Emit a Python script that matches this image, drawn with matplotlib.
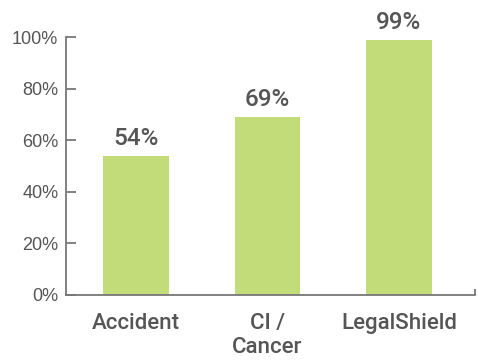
import matplotlib.pyplot as plt
from matplotlib.ticker import PercentFormatter

categories = ['Accident', 'CI /\nCancer', 'LegalShield']
values = [54, 69, 99]
yticks = [0, 20, 40, 60, 80, 100]

bar_color = '#c2dc7a'
text_color = '#555555'
axis_color = '#777777'

plt.rcParams['font.family'] = ['Liberation Sans', 'DejaVu Sans']
medium = ['Roboto', 'DejaVu Sans']

fig = plt.figure(figsize=(4.78, 3.6), dpi=100)
ax = fig.add_axes([0.138, 0.1806, 0.8557, 0.7166])

x = range(len(categories))
bars = ax.bar(x, values, width=0.5, color=bar_color)
ax.bar_label(bars, labels=[f'{v}%' for v in values], padding=4,
             fontsize=17.5, fontweight='medium', family=medium, color=text_color)

ax.set_xlim(-0.532, 2.578)
ax.set_ylim(0, 100)
ax.set_yticks(yticks)
ax.yaxis.set_major_formatter(PercentFormatter(decimals=0))
ax.tick_params(axis='y', direction='in', length=7.2, width=1.3,
               color=axis_color, labelsize=13, labelcolor=text_color, pad=5.5)

ax.set_xticks(list(x))
ax.set_xticklabels(categories, fontsize=16, fontweight='medium', family=medium,
                   color=text_color, linespacing=1.2)
ax.tick_params(axis='x', length=0, pad=13, which='major')
ax.set_xticks([2.578], minor=True)
ax.tick_params(axis='x', which='minor', direction='in', length=4.5,
               width=1.3, color=axis_color)

for s in ['top', 'right']:
    ax.spines[s].set_visible(False)
for s in ['left', 'bottom']:
    ax.spines[s].set_color(axis_color)
    ax.spines[s].set_linewidth(1.3)

fig.savefig('out.png', dpi=100)
